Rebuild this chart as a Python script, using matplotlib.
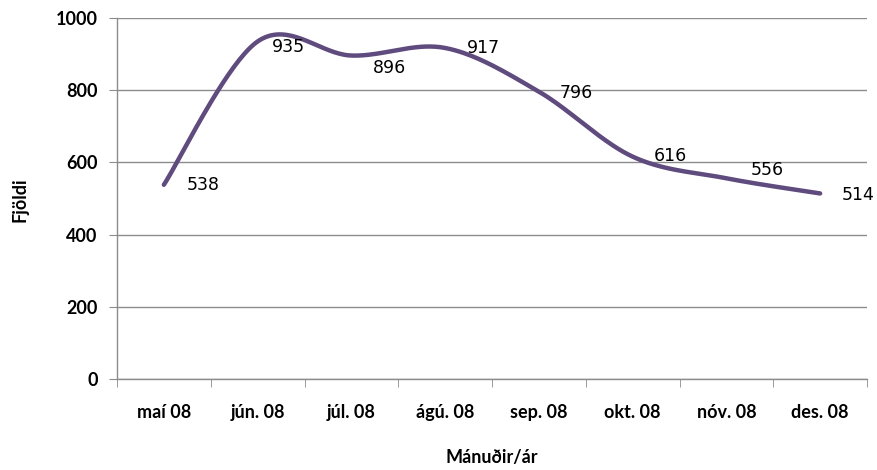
import numpy as np
import matplotlib
matplotlib.use("Agg")
import matplotlib.pyplot as plt

# Data
months = ['maí 08', 'jún. 08', 'júl. 08', 'ágú. 08', 'sep. 08', 'okt. 08', 'nóv. 08', 'des. 08']
counts = [538, 935, 896, 917, 796, 616, 556, 514]

# label nudges in pixels (dx right, dy down), as placed in the original chart
label_dx = [23, 14, 21, 22, 21, 21, 24, 22]
label_dy = [0, 6, 12, 0, 1, -1, -8, 2]

line_color = '#5F4B7D'


def excel_smooth(x, y, n=40):
    # Catmull-Rom style bezier, close to Excel's "smoothed line"
    x = np.asarray(x, float)
    y = np.asarray(y, float)
    px = np.concatenate([[x[0]], x, [x[-1]]])
    py = np.concatenate([[y[0]], y, [y[-1]]])
    xs, ys = [], []
    t = np.linspace(0, 1, n)
    for i in range(1, len(px) - 2):
        p0 = np.array([px[i], py[i]])
        p3 = np.array([px[i + 1], py[i + 1]])
        c1 = p0 + (np.array([px[i + 1], py[i + 1]]) - np.array([px[i - 1], py[i - 1]])) / 6
        c2 = p3 - (np.array([px[i + 2], py[i + 2]]) - np.array([px[i], py[i]])) / 6
        b = ((1 - t) ** 3)[:, None] * p0 + (3 * (1 - t) ** 2 * t)[:, None] * c1 \
            + (3 * (1 - t) * t ** 2)[:, None] * c2 + (t ** 3)[:, None] * p3
        xs.extend(b[:, 0])
        ys.extend(b[:, 1])
    return np.array(xs), np.array(ys)


fig = plt.figure(figsize=(8.78, 4.70), dpi=100)
ax = fig.add_axes([117 / 878, 1 - 379 / 470, 750 / 878, 361 / 470])

xpos = np.arange(len(months))
sx, sy = excel_smooth(xpos, counts)
ax.plot(sx, sy, color=line_color, lw=3.2, solid_capstyle='round', zorder=3)

# data labels to the right of each point
for x, v, dx, dy in zip(xpos, counts, label_dx, label_dy):
    ax.annotate(str(v), (x, v), xytext=(dx, -dy), textcoords='offset pixels',
                ha='left', va='center', fontsize=12.5, family='DejaVu Sans', color='black')

ax.set_xlim(-0.5, len(months) - 0.5)
ax.set_ylim(0, 1000)
ax.set_yticks(range(0, 1001, 200))
ax.set_xticks(xpos)
ax.set_xticklabels(months)
ax.set_xticks(np.arange(-0.5, len(months)), minor=True)

ax.grid(axis='y', color='#8c8c8c', lw=1)
ax.set_axisbelow(True)
for s in ['top', 'right']:
    ax.spines[s].set_visible(False)
for s in ['left', 'bottom']:
    ax.spines[s].set_color('#8c8c8c')
    ax.spines[s].set_linewidth(1)

ax.tick_params(axis='x', which='major', length=0, pad=18)
ax.tick_params(axis='x', which='minor', length=6, color='#8c8c8c', direction='out')
ax.tick_params(axis='y', length=6, color='#8c8c8c', pad=8)
for lab in ax.get_xticklabels() + ax.get_yticklabels():
    lab.set_family('Lato')
    lab.set_fontweight('bold')
    lab.set_fontsize(13)

fig.text(20 / 878, 1 - 200 / 470, 'Fjöldi', rotation=90, ha='center', va='center',
         family='Lato', fontweight='bold', fontsize=13)
fig.text(492 / 878, 1 - 458 / 470, 'Mánuðir/ár', ha='center', va='center',
         family='Lato', fontweight='bold', fontsize=13)

fig.savefig('out.png', dpi=100)
